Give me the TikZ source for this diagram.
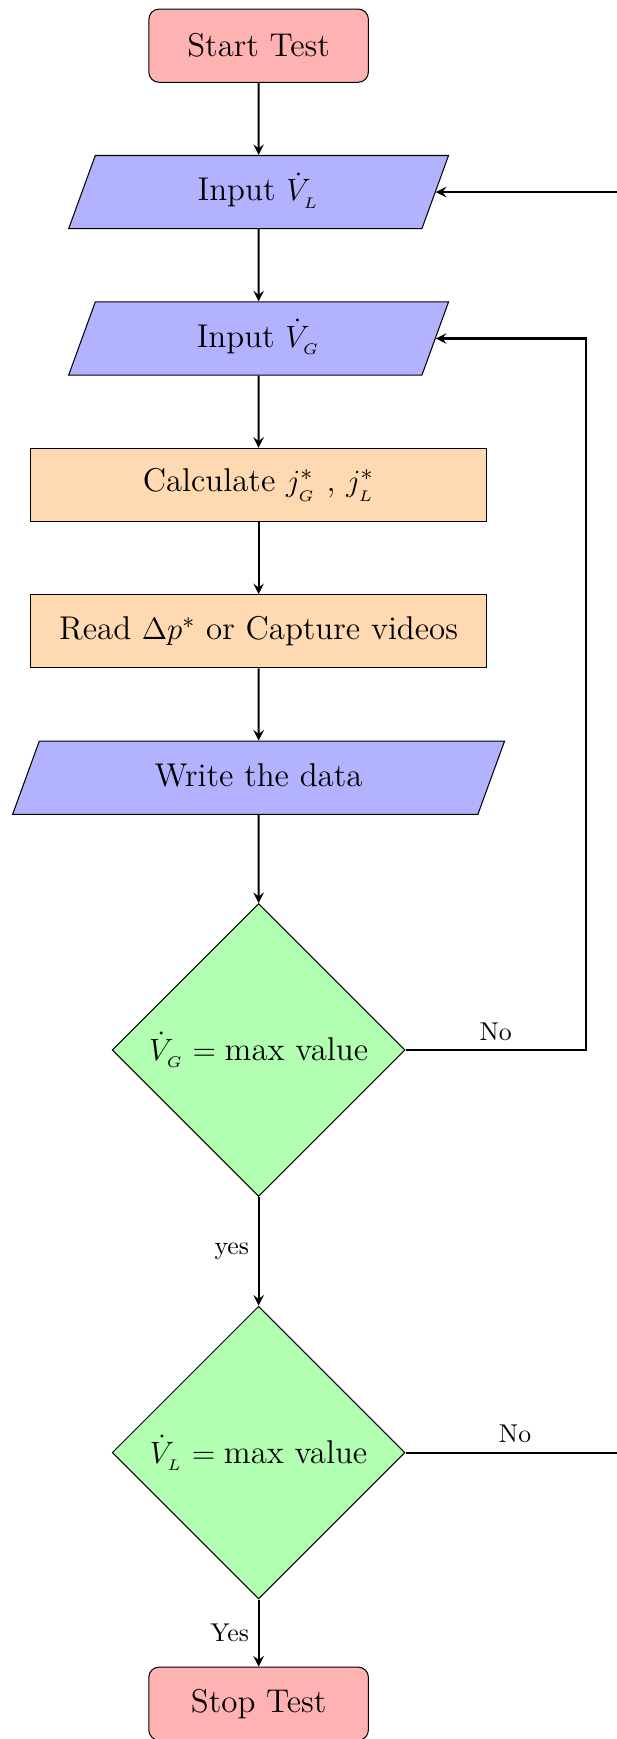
\documentclass[tikz,border=0pt]{standalone}
\usepackage{amsmath}
\usepackage{fontspec}
\usepackage{tikz}
\usetikzlibrary{
  arrows,
  shapes.geometric
}

\newcommand{\boxfont}{\fontsize{12.8}{15.4}\selectfont}

\begin{document}
\begin{tikzpicture}[
  every node/.style={font=\boxfont},
  startstop/.style={rectangle, rounded corners, draw=black, fill=red!30,
                    minimum width=3cm, minimum height=1cm, align=center},
  io/.style={trapezium, trapezium left angle=70, trapezium right angle=110,
             trapezium stretches body=true, draw=black, fill=blue!30,
             inner ysep=0pt, text height=0.62cm, text depth=0.38cm,
             minimum width=5.19cm, minimum height=1cm, align=center},
  process/.style={rectangle, draw=black, fill=orange!30,
                  minimum width=6.23cm, minimum height=1cm, align=center},
  decision/.style={diamond, draw=black, fill=green!30, inner sep=0pt,
                   minimum width=4cm, minimum height=4cm, align=center},
  lbl/.style={font=\normalsize},
  arrow/.style={thick, ->, >=stealth}
]
\useasboundingbox (-3.533, 0.624) rectangle (4.883, -23.133);

\node[startstop] (start) at (0, 0) {Start Test};
\node[io] (inl) at (0, -2) {Input $\dot{V}_{_L}$};
\node[io] (ing) at (0, -4) {Input $\dot{V}_{_G}$};
\node[process] (calc) at (0, -6) {Calculate $j^*_{_G}$ , $j^*_{_L}$};
\node[process] (read) at (0, -8) {Read $\Delta p^*$ or Capture videos};
\node[io, minimum width=6.72cm] (write) at (0, -10) {Write the data};
\node[decision] (dec1) at (0, -13.72) {$\dot{V}_{_G}=\text{max value}$};
\node[decision] (dec2) at (0, -19.22) {$\dot{V}_{_L}=\text{max value}$};
\node[startstop] (stop) at (0, -22.65) {Stop Test};

% loop-back columns
\coordinate (loopg) at (4.47, 0);
\coordinate (loopl) at (5.0, 0);

\draw[arrow] (start) -- (inl);
\draw[arrow] (inl) -- (ing);
\draw[arrow] (ing) -- (calc);
\draw[arrow] (calc) -- (read);
\draw[arrow] (read) -- (write);
\draw[arrow] (write) -- (dec1);
\draw[arrow] (dec1) -- node[lbl, left] {yes} (dec2);
\draw[arrow] (dec2) -- node[lbl, left] {Yes} (stop);
\draw[arrow] (dec1.east) -- node[lbl, above] {No} (dec1.east -| loopg) |- (ing.east);
\draw[arrow] (dec2.east) -- node[lbl, above] {No} (dec2.east -| loopl) |- (inl.east);

\end{tikzpicture}
\end{document}
